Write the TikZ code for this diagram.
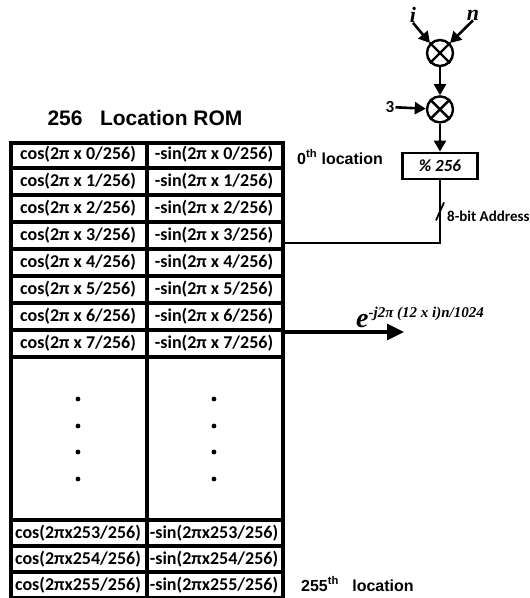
\documentclass[tikz,border=0pt]{standalone}
\usepackage{fontspec}
\setmainfont{Carlito}
\newfontfamily\arialfont{Liberation Sans}
\newfontfamily\timesfont{Liberation Serif}
\usepackage{tikz}
\usetikzlibrary{
  arrows.meta,
  positioning,
  calc
}
\tikzstyle{romframe} = [
  rectangle, draw, line width=3.6pt, inner sep=0pt,
  minimum width=272pt, minimum height=455pt, anchor=north west
]
\tikzstyle{romline} = [line width=3.2pt]
\tikzstyle{romcell} = [inner sep=0pt, font=\fontsize{18}{18}\selectfont\bfseries]
\tikzstyle{romtitle} = [inner sep=0pt, font=\arialfont\fontsize{21}{21}\selectfont\bfseries]
\tikzstyle{romlabel} = [anchor=west, inner sep=0pt, font=\arialfont\fontsize{16}{16}\selectfont\bfseries]
\tikzstyle{mulnode} = [circle, draw, line width=2.4pt, minimum size=26pt, inner sep=0pt]
\tikzstyle{modstyle} = [
  rectangle, draw, line width=2.2pt, inner sep=0pt,
  minimum width=75pt, minimum height=26pt,
  font=\fontsize{17}{17}\selectfont\bfseries\itshape
]
\tikzstyle{vartext} = [inner sep=0pt, font=\timesfont\fontsize{22}{22}\selectfont\bfseries\itshape]
\tikzstyle{numtext} = [inner sep=1pt, font=\fontsize{17}{17}\selectfont\bfseries]
\tikzstyle{addrtext} = [anchor=west, inner sep=0pt, font=\fontsize{15}{15}\selectfont\bfseries]
\tikzstyle{exptext} = [inner sep=0pt, font=\timesfont\fontsize{28}{28}\selectfont\bfseries\itshape]
\tikzstyle{arrowstyle} = [-{Triangle[length=11pt,width=12pt]}, line width=2.6pt]
\tikzstyle{addrline} = [line width=1.8pt]
\tikzstyle{outarrow} = [-{Triangle[length=17pt,width=16pt]}, line width=3.2pt]

\begin{document}
\begin{tikzpicture}[x=1pt, y=-1pt, node distance=28pt]
\useasboundingbox (0,0) rectangle (530,598);

% --- ROM table ---
\node[romtitle] (title) at (145,118) {256\ \ \ Location ROM};
\node[romframe] (rom) at (9,141) {};
\draw[romline] (147,141) -- (147,596);
\foreach \y in {168,195,222,249,276,303,330,357,520,546,572}
  \draw[romline] (9,\y) -- (281,\y);
\foreach \k in {0,...,7} {
  \node[romcell] (cos\k) at (78,{154.5+27*\k}) {cos(2π x \k/256)};
  \node[romcell] (sin\k) at (214,{154.5+27*\k}) {-sin(2π x \k/256)};
}
\foreach \y in {399,426,452,479} {
  \fill (78,\y) circle (2.4);
  \fill (214,\y) circle (2.4);
}
\foreach \k/\y in {253/533,254/559,255/585} {
  \node[romcell] (cos\k) at (78,\y) {cos(2πx\k/256)};
  \node[romcell] (sin\k) at (214,\y) {-sin(2πx\k/256)};
}
\node[romlabel] (first) at (297,157) {0\textsuperscript{th} location};
\node[romlabel] (last) at (301,584) {255\textsuperscript{th}\ \ \ location};

% --- Address path ---
\node[mulnode] (mul1) at (440,53) {};
\node[mulnode, below=of mul1] (mul2) {};
\node[modstyle, below=of mul2] (mod) {\% 256};
\node[vartext] (ivar) at (413,15) {i};
\node[vartext] (nvar) at (473,15) {n};
\node[numtext] (three) at (390,107) {3};
\foreach \m in {mul1,mul2}
  \draw[line width=2.4pt] (\m.north west) -- (\m.south east)
                          (\m.north east) -- (\m.south west);

% --- Arrows ---
\draw[arrowstyle] (ivar.south) -- (mul1.north west);
\draw[arrowstyle] (nvar.south) -- (mul1.north east);
\draw[arrowstyle] (mul1) -- (mul2);
\draw[arrowstyle] (three) -- (mul2);
\draw[arrowstyle] (mul2) -- (mod);

\coordinate (addr) at (440,243);
\draw[addrline] (mod) -- (addr) -- (rom.east |- addr);
\draw[addrline] ($(mod.south)!0.5!(addr)+(-4,9)$) -- ++(8,-18);
\node[addrtext] (addrlabel) at (447,216) {8-bit Address};

\coordinate (outtip) at (404,332);
\draw[outarrow] (rom.east |- outtip) -- (outtip);
\node[exptext, anchor=base west] (expo) at (356,327)
  {e\raisebox{10pt}{\fontsize{15}{15}\selectfont -j2π (12 x i)n/1024}};

\end{tikzpicture}
\end{document}
